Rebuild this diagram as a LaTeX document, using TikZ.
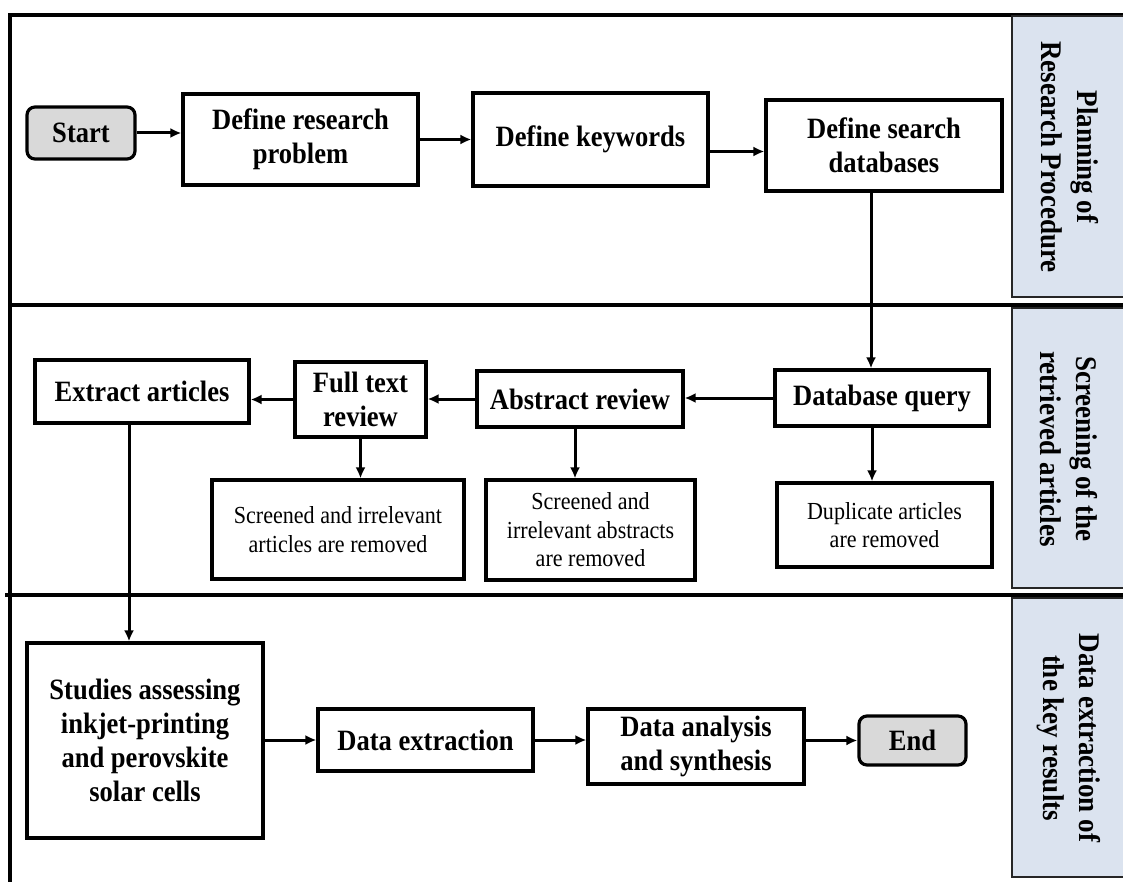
\documentclass[tikz,border=0pt]{standalone}
\usepackage{fontspec}
\setmainfont{Liberation Serif}[FakeStretch=0.9]
\usetikzlibrary{arrows.meta}
\definecolor{panelblue}{RGB}{219,227,239}
\definecolor{termgrey}{RGB}{217,217,217}
\newcommand\boldtxt{\fontsize{29.5}{34}\selectfont\bfseries}
\newcommand\regtxt{\fontsize{24.5}{28.5}\selectfont}
\newcommand\paneltxt{\fontsize{30}{35.5}\selectfont\bfseries}
\begin{document}
\begin{tikzpicture}[x=1pt,y=-1pt,
  box/.style={draw=black,line width=3.2pt,inner sep=0pt,align=center,font=\boldtxt},
  regbox/.style={box,font=\regtxt},
  term/.style={box,rounded corners=8pt,fill=termgrey},
  arr/.style={line width=3pt,-{Latex[length=11pt,width=10pt]}},
  frame/.style={line width=3.4pt},
  panel/.style={fill=panelblue,draw=black!85,line width=2pt},
  plabel/.style={rotate=-90,align=center,font=\paneltxt}]
\clip (0,0) rectangle (1123,882);
\fill[white] (0,0) rectangle (1123,882);
% frame
\draw[frame] (10,882) -- (10,15) -- (1123,15);
\draw[frame] (10,305) -- (1123,305);
\draw[frame] (5,595) -- (1123,595);
% panels
\draw[panel] (1012,16) rectangle (1130,297);
\draw[panel] (1012,308) rectangle (1130,588);
\draw[panel] (1012,598) rectangle (1130,877);
\node[plabel] (P1) at (1070,157) {Planning of\\Research Procedure};
\node[plabel] (P2) at (1069,449) {Screening of the\\retrieved articles};
\node[plabel] (P3) at (1069,738) {Data extraction of\\the key results};
% lane 1
\node[term,minimum width=108pt,minimum height=52pt] (S) at (81,133) {Start};
\node[box,minimum width=235pt,minimum height=91pt] (DR) at (300.5,139.5) {\raisebox{-3pt}{\parbox{230pt}{\centering Define research\\problem}}};
\node[box,minimum width=235pt,minimum height=93pt] (DK) at (590.5,139.5) {Define keywords};
\node[box,minimum width=236pt,minimum height=91pt] (DSD) at (884,145.5) {Define search\\databases};
% lane 2
\node[box,minimum width=214pt,minimum height=56pt] (DBQ) at (882,398) {Database query};
\node[regbox,minimum width=215pt,minimum height=84pt] (DUP) at (884.5,525) {Duplicate articles\\are removed};
\node[box,minimum width=206pt,minimum height=56pt] (AR) at (580,399) {Abstract review};
\node[regbox,minimum width=209pt,minimum height=100pt] (SA) at (590.5,530) {Screened and\\irrelevant abstracts\\are removed};
\node[box,minimum width=131pt,minimum height=75pt] (FTR) at (360.5,399.5) {Full text\\review};
\node[regbox,minimum width=252pt,minimum height=99pt] (SART) at (338,529.5) {Screened and irrelevant\\articles are removed};
\node[box,minimum width=214pt,minimum height=63pt] (EA) at (142,391.5) {Extract articles};
% lane 3
\node[box,minimum width=236pt,minimum height=195pt] (ST) at (145,740.5) {Studies assessing\\inkjet-printing\\and perovskite\\solar cells};
\node[box,minimum width=215pt,minimum height=62pt] (DE) at (425.5,740) {Data extraction};
\node[box,minimum width=216pt,minimum height=75pt] (DAS) at (696,746.5) {Data analysis\\and synthesis};
\node[term,minimum width=107pt,minimum height=49pt] (END) at (912.5,740.5) {End};
% connectors
\draw[arr] (S.east) -- (S.east -| DR.west);
\draw[arr] (DR.east) -- (DR.east -| DK.west);
\coordinate (k1) at ([yshift=-12pt]DK.east);
\draw[arr] (k1) -- (k1 -| DSD.west);
\coordinate (d1) at ([xshift=-13pt]DSD.south);
\draw[arr] (d1) -- (d1 |- DBQ.north);
\coordinate (d2) at ([xshift=-10pt]DBQ.south);
\draw[arr] (d2) -- (d2 |- DUP.north);
\draw[arr] (DBQ.west) -- (DBQ.west -| AR.east);
\draw[arr] (AR.west) -- (AR.west -| FTR.east);
\draw[arr] (FTR.west) -- (FTR.west -| EA.east);
\coordinate (a1) at ([xshift=-5pt]AR.south);
\draw[arr] (a1) -- (a1 |- SA.north);
\draw[arr] (FTR.south) -- (FTR.south |- SART.north);
\coordinate (e1) at ([xshift=-13pt]EA.south);
\draw[arr] (e1) -- (e1 |- ST.north);
\draw[arr] (DE.west -| ST.east) -- (DE.west);
\draw[arr] (DE.east) -- (DE.east -| DAS.west);
\draw[arr] (END.west -| DAS.east) -- (END.west);
\end{tikzpicture}
\end{document}
